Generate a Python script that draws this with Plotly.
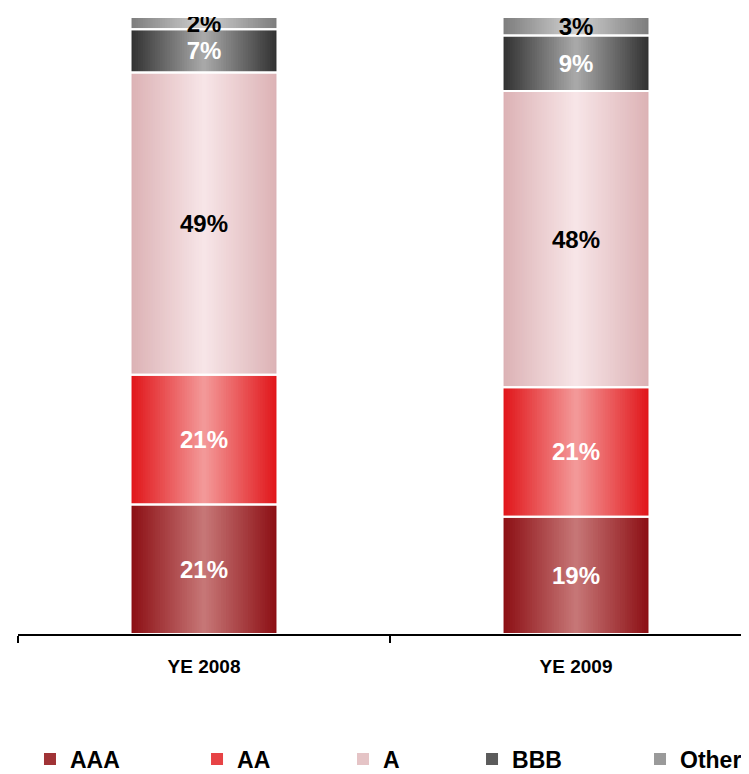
import numpy as np
import plotly.graph_objects as go

categories = ["YE 2008", "YE 2009"]
series_names = ["AAA", "AA", "A", "BBB", "Other"]
aaa = [21, 19]
aa = [21, 21]
a_vals = [49, 48]
bbb = [7, 9]
other = [2, 3]
values = [aaa, aa, a_vals, bbb, other]

# styles
edge_colors = [(140, 15, 20), (225, 22, 26), (220, 178, 181), (50, 50, 50), (125, 125, 125)]
center_colors = [(198, 118, 118), (243, 152, 152), (247, 229, 231), (168, 168, 168), (208, 208, 208)]
text_colors = ["white", "white", "black", "white", "black"]
legend_x = [0.0164, 0.2449, 0.4446, 0.6211, 0.8509]

FONT = "Liberation Sans, Arial, sans-serif"
BAR_W = 0.395
N_LAYERS = 30

fig = go.Figure()
bases = np.cumsum([[0, 0]] + values, axis=0)[:-1]

for i, name in enumerate(series_names):
    vals = values[i]
    base = bases[i]
    e = np.array(edge_colors[i], float)
    c = np.array(center_colors[i], float)
    for k in range(N_LAYERS):
        t = k / (N_LAYERS - 1)
        col = e + (c - e) * t
        w = BAR_W * (1 - k / N_LAYERS)
        legid = "legend" if i == 0 else f"legend{i+1}"
        fig.add_trace(go.Bar(
            x=categories, y=vals, base=base, width=w,
            marker=dict(color="rgb(%d,%d,%d)" % tuple(col.round()), line=dict(width=0)),
            name=name, showlegend=(k == N_LAYERS // 3), legend=legid,
            hoverinfo="skip",
        ))

for i, name in enumerate(series_names):
    vals = values[i]
    fig.add_trace(go.Bar(
        x=categories, y=vals, base=bases[i], width=BAR_W,
        marker=dict(color="rgba(0,0,0,0)", line=dict(color="white", width=2)),
        text=[f"{v}%" for v in vals], textposition="inside",
        insidetextanchor="middle", constraintext="none",
        textfont=dict(family=FONT, size=24, color=text_colors[i], weight="bold"),
        showlegend=False, hoverinfo="skip", name=name,
    ))

layout_legends = {}
for i in range(len(series_names)):
    key = "legend" if i == 0 else f"legend{i+1}"
    layout_legends[key] = dict(
        x=legend_x[i], xanchor="left", y=-0.2026, yanchor="middle",
        orientation="h", itemwidth=30, bgcolor="rgba(0,0,0,0)",
        font=dict(family=FONT, size=23, color="black", weight="bold"),
        itemclick=False, itemdoubleclick=False,
    )

fig.update_layout(
    width=749, height=774,
    margin=dict(l=10, r=8, t=9, b=148, autoexpand=False),
    barmode="overlay",
    plot_bgcolor="white", paper_bgcolor="white",
    xaxis=dict(
        range=[-0.5, 1.465], showline=True, linecolor="black", linewidth=2,
        ticks="outside", tickson="boundaries", ticklen=7, tickwidth=2, tickcolor="black",
        tickfont=dict(family=FONT, size=19, color="black", weight="bold"),
        ticklabelstandoff=14,
        showgrid=False, zeroline=False,
    ),
    yaxis=dict(range=[0, 100], visible=False, showgrid=False, zeroline=False),
    **layout_legends,
)

fig.write_html("out.html")
